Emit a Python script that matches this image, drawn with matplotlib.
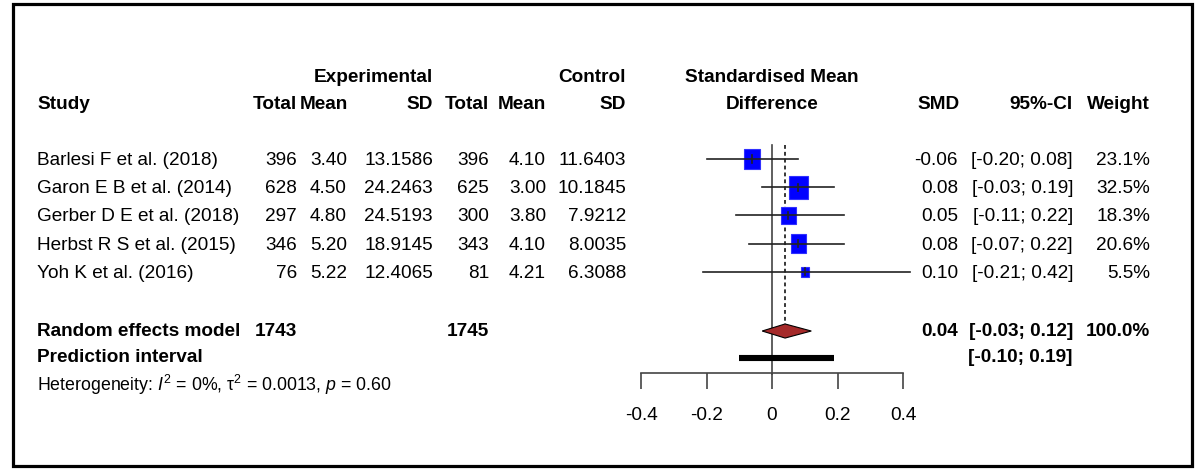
import matplotlib
matplotlib.use("Agg")
import matplotlib.pyplot as plt
from matplotlib import font_manager, transforms
from matplotlib.patches import Rectangle, Polygon

# study data
studies = ["Barlesi F et al. (2018)", "Garon E B et al. (2014)", "Gerber D E et al. (2018)",
           "Herbst R S et al. (2015)", "Yoh K et al. (2016)"]
n_exp = [396, 628, 297, 346, 76]
mean_exp = [3.40, 4.50, 4.80, 5.20, 5.22]
sd_exp = [13.1586, 24.2463, 24.5193, 18.9145, 12.4065]
n_ctl = [396, 625, 300, 343, 81]
mean_ctl = [4.10, 3.00, 3.80, 4.10, 4.21]
sd_ctl = [11.6403, 10.1845, 7.9212, 8.0035, 6.3088]
smd = [-0.06, 0.08, 0.05, 0.08, 0.10]
ci_lo = [-0.20, -0.03, -0.11, -0.07, -0.21]
ci_hi = [0.08, 0.19, 0.22, 0.22, 0.42]
weight = [23.1, 32.5, 18.3, 20.6, 5.5]

# pooled results
re_smd = 0.04
re_lo, re_hi = -0.03, 0.12
pi_lo, pi_hi = -0.10, 0.19
i2, tau2, p_het = 0, 0.0013, 0.60
xticks = [-0.4, -0.2, 0, 0.2, 0.4]

names = {f.name for f in font_manager.fontManager.ttflist}
if "Liberation Sans Narrow" in names:
    fam, fs = "Liberation Sans Narrow", 16.0
else:
    fam, fs = "Liberation Sans", 13.7
plt.rcParams["font.family"] = [fam, "DejaVu Sans"]
plt.rcParams["mathtext.fontset"] = "custom"
plt.rcParams["mathtext.rm"] = fam
plt.rcParams["mathtext.it"] = fam + ":italic"

W, H = 1198, 469
fig = plt.figure(figsize=(W / 100, H / 100), dpi=100)

# forest panel: x in SMD units, y in rows (row spacing ~28 px)
ax = fig.add_axes([641 / W, 0, 262 / W, 1])
ax.set_xlim(-0.4, 0.4)
ax.set_ylim(10.993, -5.638)
ax.axis("off")

px_x = 262 / 0.8      # pixels per SMD unit
px_y = 469 / 16.631   # pixels per row

rows = list(range(len(studies)))
y_re, y_pi, y_het = 6.1, 7.05, 8.0

ax.plot([0, 0], [-0.5, 7.63], color="#444444", lw=1.2, clip_on=False)
ax.plot([re_smd, re_smd], [-0.5, y_re - 0.24], color="black", lw=1.1,
        ls=(0, (2.5, 2)), clip_on=False)

for y, m, lo, hi, w in zip(rows, smd, ci_lo, ci_hi, weight):
    side = 3.35 * w ** 0.5
    bw, bh = side / px_x, side * 1.22 / px_y
    ax.add_patch(Rectangle((m - bw / 2, y - bh / 2), bw, bh, facecolor="#0000ff",
                           edgecolor="#3030ff", lw=0.8, zorder=2))
    ax.plot([lo, hi], [y, y], color="#222222", lw=1.2, zorder=3, clip_on=False)
    ax.plot([m, m], [y - 0.13, y + 0.13], color="#222222", lw=1.2, zorder=3)

ax.add_patch(Polygon([[re_lo, y_re], [re_smd, y_re - 0.25], [re_hi, y_re], [re_smd, y_re + 0.25]],
                     closed=True, facecolor="#a52a2a", edgecolor="black", lw=0.8, zorder=3))
ax.plot([pi_lo, pi_hi], [y_pi, y_pi], color="black", lw=4.4, solid_capstyle="butt")

# x axis under the forest panel
axx = fig.add_axes([641 / W, (H - 373) / H, 262 / W, 0.0001])
axx.set_xlim(-0.4, 0.4)
axx.set_xticks(xticks)
axx.set_xticklabels(["%g" % t for t in xticks])
axx.set_yticks([])
for s in ["top", "left", "right"]:
    axx.spines[s].set_visible(False)
axx.spines["bottom"].set_color("#444444")
axx.spines["bottom"].set_linewidth(1.2)
axx.tick_params(axis="x", direction="out", length=11.5, width=1.2, color="#444444",
                pad=13, labelsize=fs)
axx.patch.set_alpha(0)

# text columns: x in figure pixels, y in forest rows
tr = transforms.blended_transform_factory(fig.transFigure, ax.transData)


def put(xp, y, s, ha="right", bold=False, size=fs):
    fig.text(xp / W, y, s, transform=tr, ha=ha, va="center", fontsize=size,
             fontweight="bold" if bold else "normal", color="black")


y_h1, y_h2 = -2.9, -1.92
put(37, y_h2, "Study", ha="left", bold=True)
put(373, y_h1, "Experimental", ha="center", bold=True)
put(626, y_h1, "Control", bold=True)
for xp, lab in zip([297, 348, 433, 489, 546, 626], ["Total", "Mean", "SD", "Total", "Mean", "SD"]):
    put(xp, y_h2, lab, bold=True)
put(772, y_h1, "Standardised Mean", ha="center", bold=True)
put(772, y_h2, "Difference", ha="center", bold=True)
put(960, y_h2, "SMD", bold=True)
put(1073, y_h2, "95%-CI", bold=True)
put(1150, y_h2, "Weight", bold=True)

for i, y in enumerate(rows):
    put(37, y + 0.05, studies[i], ha="left")
    put(297, y + 0.05, "%d" % n_exp[i])
    put(347, y + 0.05, "%.2f" % mean_exp[i])
    put(433, y + 0.05, "%.4f" % sd_exp[i])
    put(489, y + 0.05, "%d" % n_ctl[i])
    put(546, y + 0.05, "%.2f" % mean_ctl[i])
    put(626, y + 0.05, "%.4f" % sd_ctl[i])
    put(958, y + 0.05, "%.2f" % smd[i])
    put(1073, y + 0.05, "[%.2f; %.2f]" % (ci_lo[i], ci_hi[i]))
    put(1150, y + 0.05, "%.1f%%" % weight[i])

put(37, y_re, "Random effects model", ha="left", bold=True)
put(297, y_re, "%d" % sum(n_exp), bold=True)
put(489, y_re, "%d" % sum(n_ctl), bold=True)
put(958, y_re, "%.2f" % re_smd, bold=True)
put(1073, y_re, "[%.2f; %.2f]" % (re_lo, re_hi), bold=True)
put(1150, y_re, "%.1f%%" % sum(weight), bold=True)
put(37, y_pi, "Prediction interval", ha="left", bold=True)
put(1073, y_pi, "[%.2f; %.2f]" % (pi_lo, pi_hi), bold=True)
put(37, y_het, r"Heterogeneity: $\mathit{I}^2$ = %d%%, $\mathrm{\tau}^2$ = %.4f, $\mathit{p}$ = %.2f"
    % (i2, tau2, p_het), ha="left", size=fs * 0.93)

# outer frame
fig.add_artist(Rectangle((12.5 / W, 3.5 / H), 1179 / W, 461 / H, transform=fig.transFigure,
                         fill=False, edgecolor="black", lw=2.3))

fig.savefig("out.png", dpi=100)
